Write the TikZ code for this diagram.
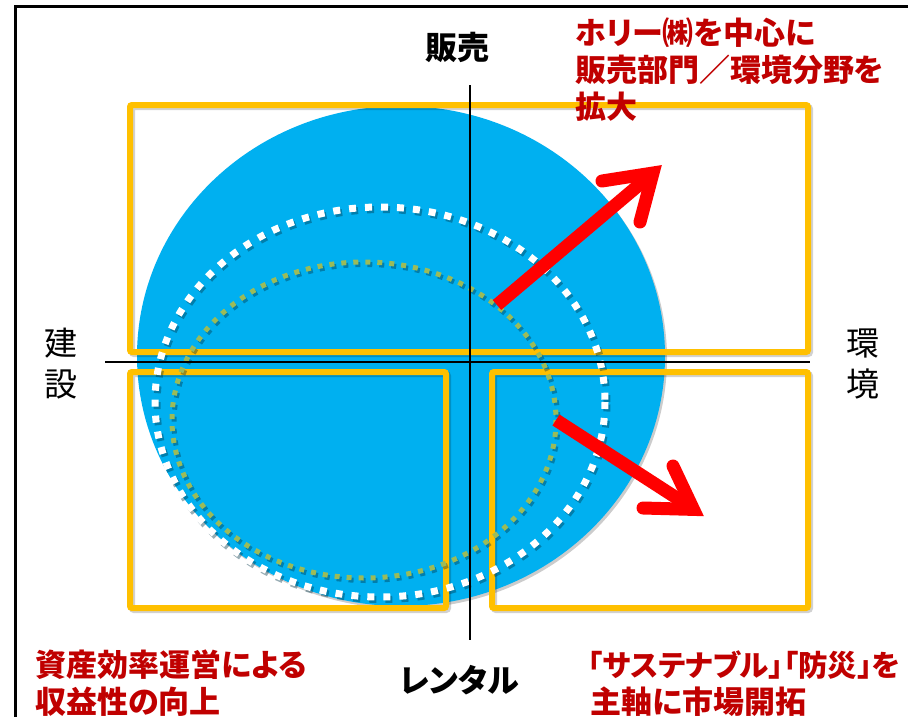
\documentclass[tikz,border=0pt]{standalone}
\usepackage{fontspec}
\newfontfamily\jp[RawFeature=+palt]{Noto Sans CJK JP}
\definecolor{skyblue}{HTML}{00B0F0}
\definecolor{boxyellow}{HTML}{FFC000}
\definecolor{darkred}{HTML}{C00000}
\definecolor{olivegreen}{HTML}{9BBB59}
\definecolor{arrowred}{HTML}{FF0000}
\tikzset{
  yellowbox/.style={draw=boxyellow, line width=6pt, rounded corners=2pt},
  boxshadow/.style={draw=black, opacity=0.18, line width=6pt, rounded corners=2pt},
  whitedots/.style={draw=white, line width=7pt, dash pattern=on 7pt off 9pt},
  greendots/.style={draw=olivegreen, line width=5pt, dash pattern=on 5pt off 7pt},
  dotshadow/.style={draw=black!70!skyblue, opacity=0.4},
  axisline/.style={draw=black, line width=2pt},
  redshaft/.style={draw=arrowred, line width=13pt},
  redhead/.style={draw=arrowred, line width=13pt, line cap=round, line join=miter},
  redtxt/.style={text=darkred, font=\jp\bfseries\fontsize{31}{36}\selectfont, inner sep=0pt, anchor=west},
  axistxt/.style={text=black, font=\jp\bfseries\fontsize{32}{38}\selectfont, inner sep=0pt},
  sidetxt/.style={text=black, font=\jp\fontsize{33}{38}\selectfont, inner sep=0pt}
}
\begin{document}
\begin{tikzpicture}[x=1pt,y=-1pt]
\useasboundingbox (0,0) rectangle (908,716);
\clip (0,0) rectangle (908,716);
\fill[white] (0,0) rectangle (908,716);
% outer frame
\draw[line width=3pt] (15,6) rectangle (940,750);
% blue disc
\fill[black, opacity=0.2] (403,358.5) ellipse [x radius=264, y radius=250];
\fill[skyblue] (401,356) ellipse [x radius=264, y radius=250];
% boxes
\draw[boxshadow] (132,107) rectangle (810,354);
\draw[boxshadow] (132,374) rectangle (448,610);
\draw[boxshadow] (494,374) rectangle (810,610);
\draw[yellowbox] (130,105) rectangle (808,352);
\draw[yellowbox] (130,372) rectangle (446,608);
\draw[yellowbox] (492,372) rectangle (808,608);
% dotted circles
\draw[whitedots, dotshadow] (382,404.5) ellipse [x radius=225, y radius=195];
\draw[whitedots] (380,402) ellipse [x radius=225, y radius=195];
\draw[greendots, dotshadow] (366,422.5) ellipse [x radius=192, y radius=158];
\draw[greendots] (364,420) ellipse [x radius=192, y radius=158];
% axes
\coordinate (vtop) at (470,85);
\coordinate (vbot) at (470,640);
\coordinate (hl) at (105,362);
\coordinate (hr) at (810,362);
\draw[axisline] (vtop) -- (vbot);
\draw[axisline] (hl) -- (hr);
% arrows
\coordinate (a1s) at (497,305);
\coordinate (a1e) at (646,179);
\coordinate (a1t) at (653,173);
\coordinate (a1l) at (602,181);
\coordinate (a1r) at (640,222);
\draw[redshaft] (a1s) -- (a1e);
\draw[redhead] (a1l) -- (a1t) -- (a1r);
\coordinate (a2s) at (556,420);
\coordinate (a2e) at (686,504);
\coordinate (a2t) at (693.5,509.4);
\coordinate (a2u) at (673,466);
\coordinate (a2d) at (643,508);
\draw[redshaft] (a2s) -- (a2e);
\draw[redhead] (a2u) -- (a2t) -- (a2d);
% axis labels
\node[axistxt] (hanbai) at (457,47) {販売};
\node[axistxt] (rental) at (459,680) {レンタル};
\node[sidetxt] (ken) at (61,343) {建};
\node[sidetxt] (setsu) at (61,384) {設};
\node[sidetxt] (kan) at (863,343) {環};
\node[sidetxt] (kyou) at (863,384) {境};
% red texts
\node[redtxt] (tr1) at (575,33) {ホリー㈱を中心に};
\node[redtxt] (tr2) at (575,70) {販売部門／環境分野を};
\node[redtxt] (tr3) at (575,107) {拡大};
\node[redtxt] (bl1) at (35,665) {資産効率運営による};
\node[redtxt] (bl2) at (35,702) {収益性の向上};
\node[redtxt, font=\jp\bfseries\fontsize{29.5}{36}\selectfont] (br1) at (588,665) {「サステナブル」「防災」を};
\node[redtxt] (br2) at (590,702) {主軸に市場開拓};
\end{tikzpicture}
\end{document}
